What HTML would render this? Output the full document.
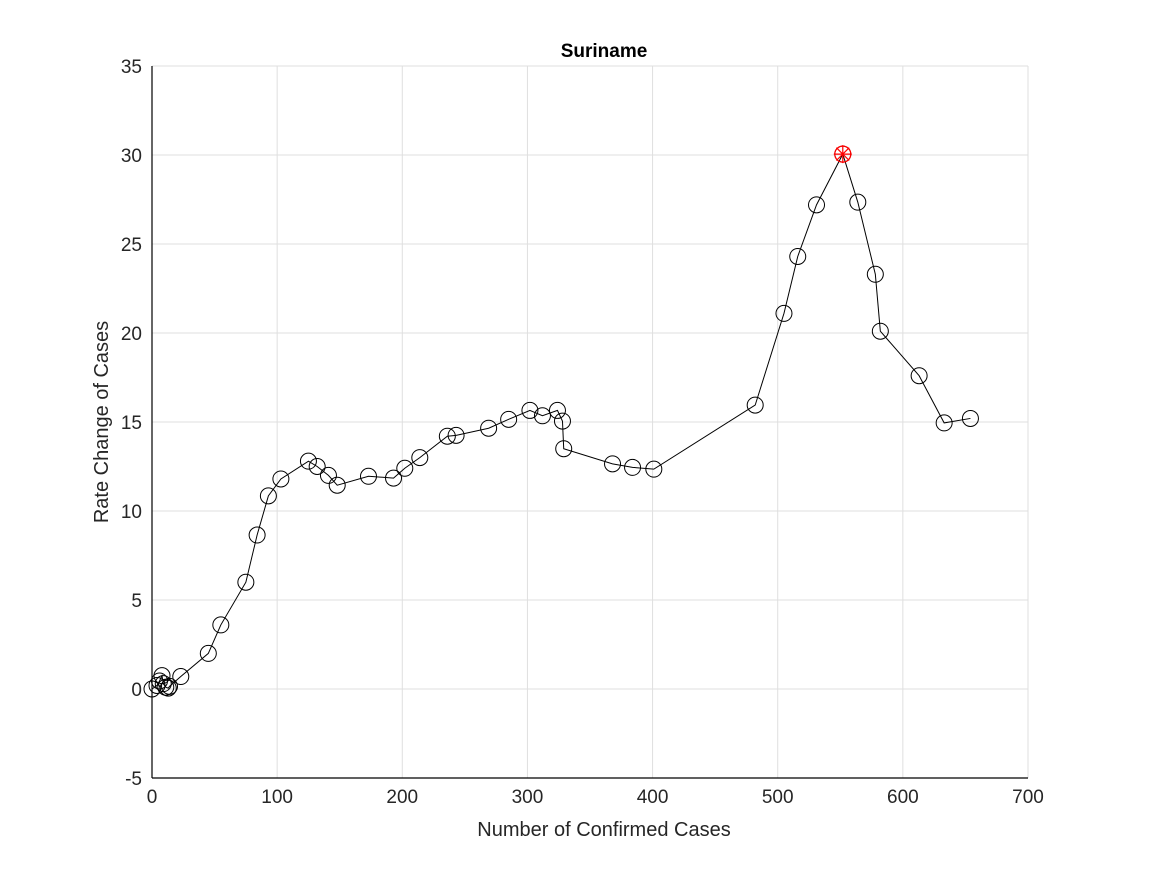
<!DOCTYPE html>
<html><head><meta charset="utf-8"><style>
body{margin:0;background:#fff;}
svg{display:block;font-family:"Liberation Sans",sans-serif;}
</style></head><body>
<svg id="chart" width="1167" height="875" xmlns="http://www.w3.org/2000/svg">
<rect width="1167" height="875" fill="#fff"/>
<g id="grid"></g>
<line x1="152" y1="778" x2="1028" y2="778" stroke="#000" stroke-width="1.2"/>
<line x1="152" y1="66" x2="152" y2="778" stroke="#000" stroke-width="1.2"/>
<g id="ticks"></g>
<g id="series"></g>
<text x="604" y="57" text-anchor="middle" font-size="19" font-weight="bold">Suriname</text>
<text x="604" y="836" text-anchor="middle" font-size="20" fill="#262626">Number of Confirmed Cases</text>
<text transform="translate(108,422) rotate(-90)" text-anchor="middle" font-size="20" fill="#262626">Rate Change of Cases</text>
</svg>
<script>
const xTicks=[0,100,200,300,400,500,600,700];
const yTicks=[-5,0,5,10,15,20,25,30,35];
const xVals=[0,4,6,8,9,11,13,14,23,45,55,75,84,93,103,125,132,141,148,173,193,202,214,236,243,269,285,302,312,324,328,329,368,384,401,482,505,516,531,552,564,578,582,613,633,654];
const yVals=[0,0.2,0.45,0.75,0.3,0.1,0.05,0.15,0.7,2.0,3.6,6.0,8.65,10.85,11.8,12.8,12.5,12.0,11.45,11.95,11.85,12.4,13.0,14.2,14.25,14.65,15.15,15.65,15.35,15.65,15.05,13.5,12.65,12.45,12.35,15.95,21.1,24.3,27.2,30.05,27.35,23.3,20.1,17.6,14.95,15.2];
const X0=152,X1=1028,Y0=778,Y1=66;
const sx=v=>X0+(v-0)/(700-0)*(X1-X0);
const sy=v=>Y0-(v+5)/(40)*(Y0-Y1);
const NS="http://www.w3.org/2000/svg";
function mk(t,a,p){const e=document.createElementNS(NS,t);for(const k in a)e.setAttribute(k,a[k]);p.appendChild(e);return e;}
const grid=document.getElementById('grid'),ticks=document.getElementById('ticks'),series=document.getElementById('series');
xTicks.forEach(v=>{const x=sx(v);
const g=mk('line',{x1:x,x2:x,y1:Y1,y2:Y0,stroke:'#dfdfdf'},grid);


const t=mk('text',{x:x,y:Y0+25,'text-anchor':'middle','font-size':19,fill:'#262626'},ticks);t.textContent=v;

});
yTicks.forEach(v=>{const y=sy(v);
const g=mk('line',{x1:X0,x2:X1,y1:y,y2:y,stroke:'#dfdfdf'},grid);


const t=mk('text',{x:X0-10,y:y+7,'text-anchor':'end','font-size':19,fill:'#262626'},ticks);t.textContent=v;

});
const line=mk('polyline',{points:xVals.map((v,i)=>sx(v)+','+sy(yVals[i])).join(' '),fill:'none',stroke:'#000','stroke-width':1},series);


let mi=0;yVals.forEach((v,i)=>{if(v>yVals[mi])mi=i;});
xVals.forEach((v,i)=>{const c=mk('circle',{cx:sx(v),cy:sy(yVals[i]),r:8,fill:'none',stroke:'#000','stroke-width':1},series);

});
const px=sx(xVals[mi]),py=sy(yVals[mi]);
const mg=mk('g',{stroke:'#f00','stroke-width':1.2,fill:'none'},series);


mk('circle',{cx:px,cy:py,r:8},mg);
[[0,9],[9,0],[6.4,6.4],[6.4,-6.4]].forEach(d=>mk('line',{x1:px-d[0],y1:py-d[1],x2:px+d[0],y2:py+d[1]},mg));
</script>
</body></html>
